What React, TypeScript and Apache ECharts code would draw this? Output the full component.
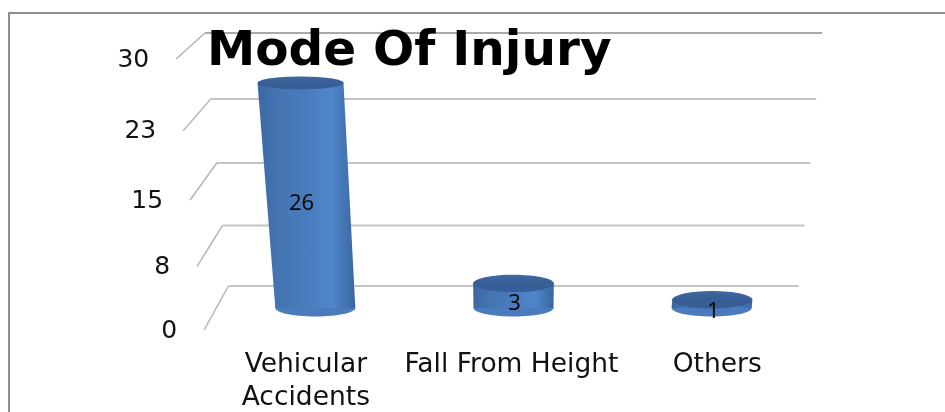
import React, { useEffect, useRef } from "react";
import * as echarts from "echarts";

const categories = ["Vehicular\nAccidents", "Fall From Height", "Others"];
const values = [26, 3, 1];
const yTickValues = [0, 7.5, 15, 22.5, 30];
const yTickLabels = ["0", "8", "15", "23", "30"];

const AXIS_FONT = "'DejaVu Sans', Verdana, sans-serif";
const sideFill = {
  type: "linear", x: 0, y: 0, x2: 1, y2: 0,
  colorStops: [
    { offset: 0, color: "#3b68a3" },
    { offset: 0.18, color: "#4373b0" },
    { offset: 0.5, color: "#4a7cbd" },
    { offset: 0.75, color: "#4f86cc" },
    { offset: 1, color: "#3b67a0" },
  ],
};
const capFill = {
  type: "linear", x: 0, y: 0, x2: 0, y2: 1,
  colorStops: [
    { offset: 0, color: "#3f6aa3" },
    { offset: 0.5, color: "#375d94" },
    { offset: 1, color: "#37609a" },
  ],
};

// The 3D view: a point of the flat grid, seen at depth d (0 = front edge of the floor, 1 = back wall).
function project(sys: any, ax: number, ay: number, d: number) {
  const f = (sys.y + sys.height - ay) / sys.height;
  const s = (1.003 - 0.079 * d) * (1 + f * (0.09 - 0.0075 * d));
  const cx = sys.x + sys.width / 2;
  const yFront = 330 - 249 * f - 22 * f * f;
  const yBack = 286 - 239 * f - 14 * f * f;
  return { x: cx + 2 + (ax - cx) * s, y: yFront + (yBack - yFront) * d, f };
}

export default function App() {
  const ref = useRef<HTMLDivElement>(null);
  useEffect(() => {
    if (!ref.current) return;
    const chart = echarts.init(ref.current, undefined, { renderer: "svg" });
    chart.setOption({
      animation: false,
      backgroundColor: "#ffffff",
      title: {
        text: "Mode Of Injury",
        left: 202,
        top: 18,
        z: 20,
        textStyle: { fontFamily: AXIS_FONT, fontWeight: "bold", fontSize: 48.5, color: "#000000" },
      },
      graphic: [
        {
          type: "polyline",
          silent: true,
          shape: { points: [[9, 412], [9, 13], [945, 13]] },
          style: { stroke: "#8f8f8f", lineWidth: 2, fill: "none" },
        },
      ],
      grid: { left: 203, width: 617, top: 59, height: 271, containLabel: false },
      xAxis: {
        type: "category",
        data: categories,
        axisLine: { show: false },
        axisTick: { show: false },
        axisLabel: {
          interval: 0,
          margin: 19,
          fontFamily: AXIS_FONT,
          fontSize: 26.5,
          lineHeight: 33,
          color: "#111111",
        },
      },
      yAxis: {
        type: "value",
        min: 0,
        max: 30,
        interval: 7.5,
        axisLine: { show: false },
        axisTick: { show: false },
        axisLabel: { show: false },
        splitLine: { show: false },
      },
      series: [
        {
          type: "custom",
          name: "Axis",
          coordinateSystem: "cartesian2d",
          clip: false,
          z: 2,
          encode: { x: 0, y: 1 },
          data: yTickValues.map((v, i) => [0, v, i]),
          renderItem: (params: any, api: any) => {
            const sys = params.coordSys;
            const v = api.value(1);
            const idx = api.value(2);
            const ay = api.coord([0, v])[1];
            const front = project(sys, sys.x, ay, 0);
            const backL = project(sys, sys.x, ay, 1);
            const backR = project(sys, sys.x + sys.width, ay, 1);
            const top = idx === yTickValues.length - 1;
            return {
              type: "group",
              children: [
                {
                  type: "line",
                  shape: { x1: backL.x, y1: backL.y, x2: backR.x, y2: backR.y },
                  style: { stroke: top ? "#a9a9a9" : "#c4c4c4", lineWidth: 2 },
                },
                {
                  type: "line",
                  shape: { x1: front.x, y1: front.y, x2: backL.x, y2: backL.y },
                  style: { stroke: "#b4b4b4", lineWidth: 1.5 },
                },
                {
                  type: "text",
                  style: {
                    text: yTickLabels[idx],
                    x: front.x - 27,
                    y: front.y - 1,
                    align: "right",
                    verticalAlign: "middle",
                    fontFamily: AXIS_FONT,
                    fontSize: 25,
                    fill: "#111111",
                  },
                },
              ],
            };
          },
        },
        {
          type: "custom",
          name: "Mode Of Injury",
          coordinateSystem: "cartesian2d",
          clip: false,
          z: 5,
          encode: { x: 0, y: 1 },
          data: values.map((v, i) => [i, v]),
          renderItem: (params: any, api: any) => {
            const sys = params.coordSys;
            const i = api.value(0);
            const v = api.value(1);
            const ax = api.coord([i, 0])[0];
            const base = project(sys, ax, api.coord([i, 0])[1], 0.5);
            const top = project(sys, ax, api.coord([i, v])[1], 0.5);
            const rxBase = 40;
            const rxTop = 40 * (1 + top.f * 0.086);
            const ryBase = 8.5;
            const ryTop = 9 - 3 * top.f;
            return {
              type: "group",
              children: [
                {
                  type: "ellipse",
                  shape: { cx: base.x, cy: base.y, rx: rxBase, ry: ryBase },
                  style: { fill: "#4a7cbd" },
                },
                {
                  type: "polygon",
                  shape: {
                    points: [
                      [top.x - rxTop, top.y],
                      [top.x + rxTop, top.y],
                      [base.x + rxBase, base.y],
                      [base.x - rxBase, base.y],
                    ],
                  },
                  style: { fill: sideFill },
                },
                {
                  type: "ellipse",
                  shape: { cx: top.x, cy: top.y, rx: rxTop, ry: ryTop },
                  style: { fill: capFill },
                },
                {
                  type: "text",
                  style: {
                    text: String(v),
                    x: top.x + 1,
                    y: (top.y + base.y) / 2 + 5.5,
                    align: "center",
                    verticalAlign: "middle",
                    fontFamily: "'Noto Sans', sans-serif",
                    fontSize: 22,
                    fill: "#0a0a0a",
                  },
                },
              ],
            };
          },
        },
      ],
    });
    return () => chart.dispose();
  }, []);
  return <div ref={ref} style={{ position: "fixed", left: 0, top: 0, width: 945, height: 412, filter: "blur(0.4px)" }} />;
}
